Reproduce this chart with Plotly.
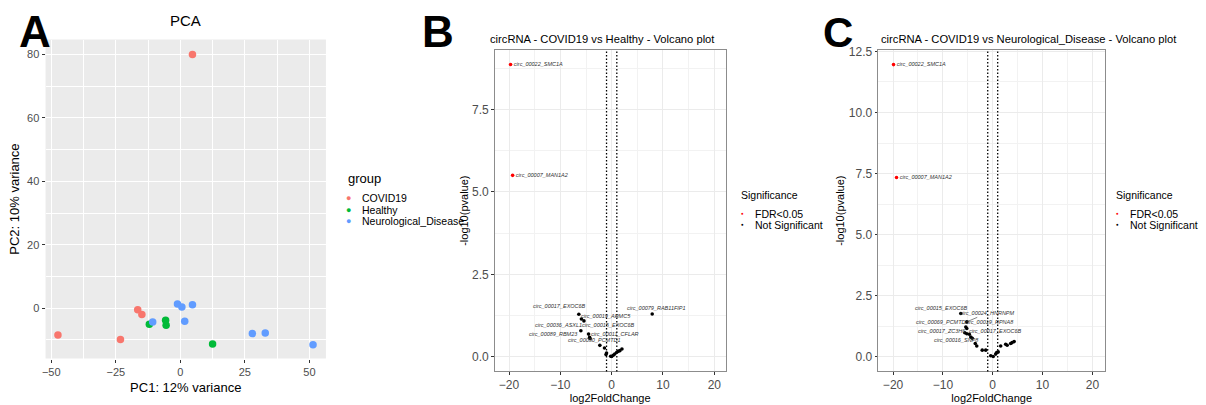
import plotly.graph_objects as go

W, H = 1206, 405
FONT = "Liberation Sans"

# ---------------- Panel A : PCA ----------------
pca_groups = ["COVID19", "Healthy", "Neurological_Disease"]
pca_colors = ["#F8766D", "#00BA38", "#619CFF"]
covid_pc1 = [4.7, -16.5, -14.9, -47.4, -23.2]
covid_pc2 = [80.0, -0.5, -2.0, -8.5, -9.9]
healthy_pc1 = [-12.0, -5.7, -5.5, 12.5]
healthy_pc2 = [-5.1, -3.8, -5.4, -11.3]
neuro_pc1 = [-10.7, -1.1, 0.6, 4.7, 1.7, 27.9, 32.9, 51.4]
neuro_pc2 = [-4.4, 1.3, 0.4, 1.1, -4.1, -8.0, -7.8, -11.5]

# ---------------- Panel B : COVID19 vs Healthy ----------------
b_sig_names = ["circ_00022_SMC1A", "circ_00007_MAN1A2"]
b_sig_lfc = [-19.7, -19.3]
b_sig_logp = [8.86, 5.50]
b_ns_names = ["circ_00017_EXOC6B", "circ_00019_ARMC5", "circ_00036_ASXL1",
              "circ_00089_RBM23", "circ_00015_EXOC6B", "circ_00011_CFLAR",
              "circ_00050_PCMTD1", "circ_00079_RAB11FIP1",
              "", "", "", "", "", "", "", "", "", "", "", ""]
b_ns_lfc = [-6.4, -5.9, -5.4, -6.0, -4.5, -4.3, -2.3, 7.9,
            -4.2, -1.4, -1.0, -1.1, -0.2, 0.0, 0.3, 0.6, 1.0, 1.3, 1.6, 2.0]
b_ns_logp = [1.29, 1.15, 1.09, 0.79, 0.69, 0.59, 0.35, 1.30,
             0.55, 0.27, 0.12, 0.07, 0.02, 0.01, 0.05, 0.09, 0.14, 0.17, 0.19, 0.24]

# ---------------- Panel C : COVID19 vs Neurological_Disease ----------------
c_sig_names = ["circ_00022_SMC1A", "circ_00007_MAN1A2"]
c_sig_lfc = [-19.9, -19.3]
c_sig_logp = [11.96, 7.34]
c_ns_names = ["circ_00015_EXOC6B", "circ_00024_HNRNPM", "circ_00069_PCMTD1",
              "circ_00019_RPNA8", "circ_00017_ZC3H6", "circ_00017_EXOC6B",
              "circ_00016_SNP8",
              "", "", "", "", "", "", "", "", "", "", "", "", "", "", "", "", ""]
c_ns_lfc = [-6.4, -5.2, -5.4, -5.2, -5.6, -4.7, -4.4,
            -5.2, -4.1, -3.5, -3.2, -2.1, -1.4, -0.4, 0.1, 0.6, 0.8, 1.1,
            1.6, 2.6, 2.9, 3.6, 3.9, 4.3]
c_ns_logp = [1.77, 1.43, 1.22, 1.16, 0.98, 0.92, 0.81,
             0.94, 0.76, 0.54, 0.44, 0.27, 0.27, 0.04, 0.01, 0.11, 0.17, 0.20,
             0.44, 0.51, 0.47, 0.54, 0.58, 0.62]

sig_labels = ["FDR<0.05", "Not Significant"]
sig_colors = ["#FF0000", "#000000"]
FC_THRESHOLD = 1

# label placement (pixel offsets of repelled labels, style only)
b_label_shift = {
    "circ_00017_EXOC6B": (-19, 8), "circ_00019_ARMC5": (25, 3),
    "circ_00036_ASXL1": (-25, -4), "circ_00089_RBM23": (-27, -3),
    "circ_00015_EXOC6B": (20, 9), "circ_00011_CFLAR": (25, 3),
    "circ_00050_PCMTD1": (-5, 5), "circ_00079_RAB11FIP1": (4, 6),
}
c_label_shift = {
    "circ_00015_EXOC6B": (-19, 5.5), "circ_00024_HNRNPM": (21, 9),
    "circ_00069_PCMTD1": (-23, 5), "circ_00019_RPNA8": (23, 6.5),
    "circ_00017_ZC3H6": (-23, 2), "circ_00017_EXOC6B": (26, 3),
    "circ_00016_SNP8": (-14.5, -3),
}


def px_x(p):
    return p / W


def px_y(p):
    return 1 - p / H


fig = go.Figure()

# --- PCA traces
for name, xs, ys, col in zip(pca_groups, [covid_pc1, healthy_pc1, neuro_pc1],
                             [covid_pc2, healthy_pc2, neuro_pc2], pca_colors):
    fig.add_trace(go.Scatter(x=xs, y=ys, mode="markers", name=name,
                             marker=dict(color=col, size=7.5),
                             xaxis="x", yaxis="y", showlegend=False))

annotations = []
lab_font = dict(family=FONT, size=5.5, color="#333333", style="italic")


def volcano(suffix, sig_l, sig_p, sig_n, ns_l, ns_p, ns_n, shifts):
    fig.add_trace(go.Scatter(x=ns_l, y=ns_p, mode="markers", name=sig_labels[1],
                             marker=dict(color=sig_colors[1], size=3.6),
                             xaxis="x" + suffix, yaxis="y" + suffix, showlegend=False))
    fig.add_trace(go.Scatter(x=sig_l, y=sig_p, mode="markers+text", name=sig_labels[0],
                             text=sig_n, textposition="middle right",
                             textfont=lab_font,
                             marker=dict(color=sig_colors[0], size=3.6),
                             xaxis="x" + suffix, yaxis="y" + suffix, showlegend=False))
    for n, lx, ly in zip(ns_n, ns_l, ns_p):
        if not n:
            continue
        dx, dy = shifts[n]
        if n == "circ_00024_HNRNPM":
            annotations.append(dict(x=lx, y=ly, xref="x" + suffix, yref="y" + suffix,
                                    text=n, showarrow=True, ax=dx, ay=-dy,
                                    arrowhead=0, arrowwidth=0.6, arrowcolor="#333333",
                                    standoff=1, font=lab_font))
        else:
            annotations.append(dict(x=lx, y=ly, xref="x" + suffix, yref="y" + suffix,
                                    text=n, showarrow=False, xshift=dx, yshift=dy,
                                    font=lab_font))
    for v in (-FC_THRESHOLD, FC_THRESHOLD):
        fig.add_shape(type="line", xref="x" + suffix, yref="y" + suffix + " domain",
                      x0=v, x1=v, y0=0, y1=1,
                      line=dict(color="black", width=1.3, dash="1.3px,2.2px"))


volcano("2", b_sig_lfc, b_sig_logp, b_sig_names, b_ns_lfc, b_ns_logp, b_ns_names, b_label_shift)
volcano("3", c_sig_lfc, c_sig_logp, c_sig_names, c_ns_lfc, c_ns_logp, c_ns_names, c_label_shift)

# PCA panel grey background
fig.add_shape(type="rect", xref="x domain", yref="y domain", x0=0, x1=1, y0=0, y1=1,
              fillcolor="#EBEBEB", line=dict(width=0), layer="below")

tickfont_a = dict(family=FONT, size=11, color="#4D4D4D")
tickfont_v = dict(family=FONT, size=12, color="#4D4D4D")

A_dom_x = [px_x(41.7), px_x(323)]
A_dom_y = [px_y(358), px_y(35)]
B_dom_x = [px_x(492.3), px_x(724)]
C_dom_x = [px_x(877), px_x(1105)]
V_dom_y = [px_y(371), px_y(45.5)]

axA = dict(showline=False, zeroline=False, showgrid=True, gridcolor="white", gridwidth=1.1,
           ticks="outside", ticklen=3, tickcolor="#333333", tickfont=tickfont_a)
axV = dict(showline=True, mirror=True, linecolor="#8C8C8C", linewidth=1, zeroline=False,
           showgrid=True, gridcolor="#EBEBEB", gridwidth=0.8,
           ticks="outside", ticklen=2.5, tickcolor="#333333", tickfont=tickfont_v)

fig.update_layout(
    width=W, height=H, margin=dict(l=0, r=0, t=0, b=0),
    paper_bgcolor="white", plot_bgcolor="white",
    font=dict(family=FONT, color="black"),
    showlegend=False,
    xaxis=dict(axA, domain=A_dom_x, anchor="y", range=[-52.2, 56.4], tick0=0, dtick=25,
               minor=dict(dtick=12.5, showgrid=True, gridcolor="white", gridwidth=0.5),
               title=dict(text="PC1: 12% variance", font=dict(size=13, color="black"), standoff=6)),
    yaxis=dict(axA, domain=A_dom_y, anchor="x", range=[-15.9, 84.7], tick0=0, dtick=20,
               minor=dict(dtick=10, showgrid=True, gridcolor="white", gridwidth=0.5),
               title=dict(text="PC2: 10% variance", font=dict(size=13, color="black"), standoff=4)),
    xaxis2=dict(axV, domain=B_dom_x, anchor="y2", range=[-22.8, 22.2], tick0=0, dtick=10,
                minor=dict(dtick=5, showgrid=True, gridcolor="#F2F2F2", gridwidth=0.5),
                title=dict(text="log2FoldChange", font=dict(size=11, color="black"), standoff=2)),
    yaxis2=dict(axV, domain=V_dom_y, anchor="x2", range=[-0.44, 9.30], tick0=0, dtick=2.5,
                tickformat=".1f",
                minor=dict(dtick=1.25, showgrid=True, gridcolor="#F2F2F2", gridwidth=0.5),
                title=dict(text="-log10(pvalue)", font=dict(size=11, color="black"), standoff=1)),
    xaxis3=dict(axV, domain=C_dom_x, anchor="y3", range=[-23.0, 22.6], tick0=0, dtick=10,
                minor=dict(dtick=5, showgrid=True, gridcolor="#F2F2F2", gridwidth=0.5),
                title=dict(text="log2FoldChange", font=dict(size=11, color="black"), standoff=2)),
    yaxis3=dict(axV, domain=V_dom_y, anchor="x3", range=[-0.6, 12.56], tick0=0, dtick=2.5,
                tickformat=".1f",
                minor=dict(dtick=1.25, showgrid=True, gridcolor="#F2F2F2", gridwidth=0.5),
                title=dict(text="-log10(pvalue)", font=dict(size=11, color="black"), standoff=1)),
)


def txt(text, x, y, size, color="black", xanchor="left", bold=False):
    annotations.append(dict(text=("<b>%s</b>" % text) if bold else text,
                            x=px_x(x), y=px_y(y), xref="paper", yref="paper",
                            xanchor=xanchor, yanchor="middle", showarrow=False,
                            font=dict(family=FONT, size=size, color=color)))


# panel letters
txt("A", 31, 27, 44, xanchor="center", bold=True)
txt("B", 435, 27, 44, xanchor="center", bold=True)
txt("C", 837, 28, 42, xanchor="center", bold=True)

# titles
txt("PCA", 182, 16, 15, xanchor="center")
txt("circRNA - COVID19 vs Healthy - Volcano plot", 486, 34, 11.2)
txt("circRNA - COVID19 vs Neurological_Disease - Volcano plot", 878, 34, 11.2)

# legend A
txt("group", 343, 176, 13)
for i, (g, col) in enumerate(zip(pca_groups, pca_colors)):
    yy = 195.7 + 11.7 * i
    txt("\u25CF", 346, yy, 9, color=col, xanchor="center")
    txt(g, 356.7, yy, 10.5)

# legends B and C
for lx in (737.3, 1113.3):
    txt("Significance", lx, 192.3, 10.5)
    for i, (s, col) in enumerate(zip(sig_labels, sig_colors)):
        yy = 211.3 + 11 * i
        txt("\u25CF", lx + 3.6, yy, 4.5, color=col, xanchor="center")
        txt(s.replace("<", "&lt;"), lx + 14.4, yy, 10.5)

fig.update_layout(annotations=annotations)
fig.write_html("out.html", config={"displayModeBar": False},
               post_script="document.body.style.margin='0';"
                           "document.body.style.overflow='hidden';")
